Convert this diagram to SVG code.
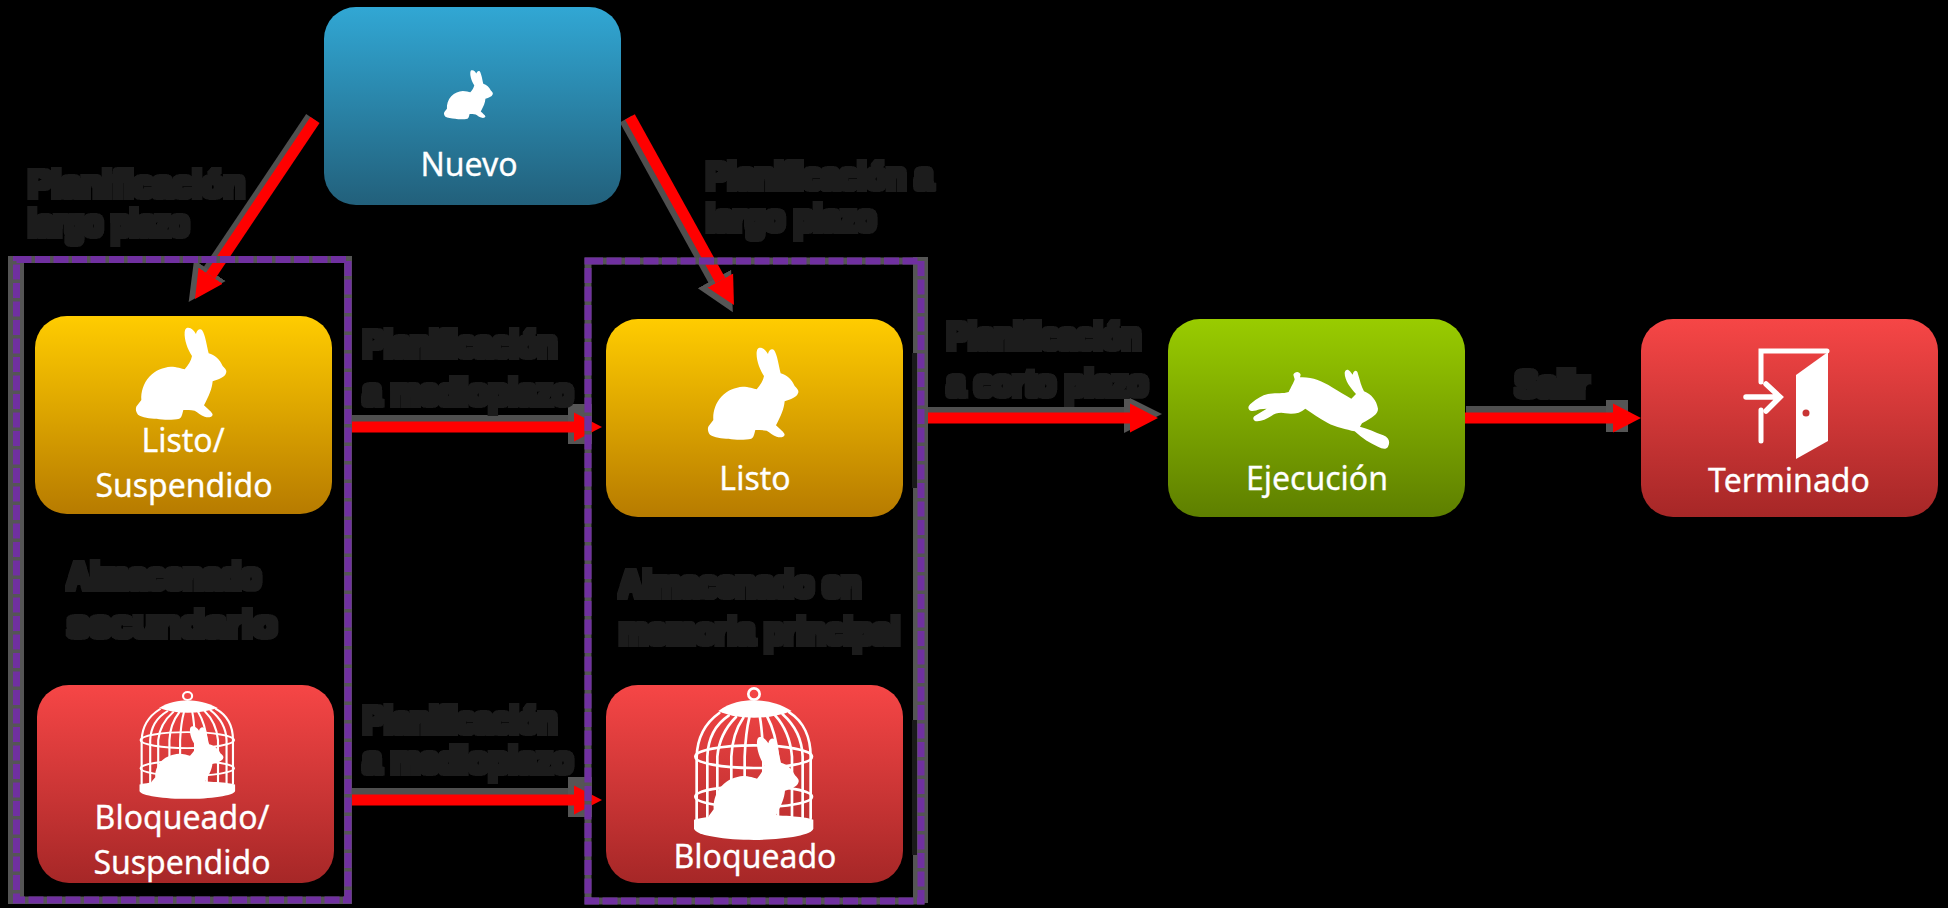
<svg xmlns="http://www.w3.org/2000/svg" xmlns:xlink="http://www.w3.org/1999/xlink" width="1948" height="908" viewBox="0 0 1948 908">
<style>
.nt{font-family:"Noto Sans","Open Sans",sans-serif;font-size:32px;fill:#fff;text-anchor:middle;stroke:#fff;stroke-width:.3px}
.lb{font-family:"Liberation Sans",Arial,sans-serif;font-weight:bold;font-size:36px;fill:#1c1c1c;filter:url(#blob)}
.card{stroke:none}
.shaft{fill:none;stroke:#f00;stroke-width:11;marker-end:url(#head)}
.halo{fill:none;stroke:#4f4f4f;stroke-width:16}
.halo.block{marker-end:url(#haloBlock)}
.halo.small{marker-end:url(#haloSmall)}
.halo.tri{stroke-width:14;marker-end:url(#haloTri)}
.frame{fill:none;stroke:#7030a0;stroke-width:7;stroke-dasharray:15 3.500}
.under{fill:none;stroke:#555;stroke-width:7}
.ink{fill:#fff}
.wire{fill:none;stroke:#fff;stroke-linecap:round}
</style>
<defs>
<filter id="blob" x="-8%" y="-30%" width="116%" height="160%"><feMorphology operator="dilate" radius="3 3"/></filter>
<linearGradient id="gBlue" x1="0" y1="0" x2="0" y2="1"><stop offset="0" stop-color="#31a7d4"/><stop offset="1" stop-color="#22607b"/></linearGradient>
<linearGradient id="gYellow" x1="0" y1="0" x2="0" y2="1"><stop offset="0" stop-color="#ffcc00"/><stop offset="1" stop-color="#b77b00"/></linearGradient>
<linearGradient id="gRed" x1="0" y1="0" x2="0" y2="1"><stop offset="0" stop-color="#f64646"/><stop offset="1" stop-color="#a62727"/></linearGradient>
<linearGradient id="gGreen" x1="0" y1="0" x2="0" y2="1"><stop offset="0" stop-color="#99cc00"/><stop offset="1" stop-color="#5e7f00"/></linearGradient>
<marker id="head" markerUnits="userSpaceOnUse" markerWidth="30" markerHeight="30" viewBox="0 0 30 30" refX="0" refY="15" orient="auto"><polygon points="0,0.5 28,15 0,29.500" fill="#f00"/></marker>
<marker id="haloBlock" markerUnits="userSpaceOnUse" markerWidth="30" markerHeight="44" viewBox="0 0 30 44" refX="6" refY="19" orient="auto"><rect x="0" y="0" width="24" height="40" fill="#555"/></marker>
<marker id="haloSmall" markerUnits="userSpaceOnUse" markerWidth="30" markerHeight="40" viewBox="0 0 30 40" refX="2" refY="14" orient="auto"><rect x="0" y="0" width="22" height="32" fill="#555"/></marker>
<marker id="haloTri" markerUnits="userSpaceOnUse" markerWidth="40" markerHeight="40" viewBox="0 0 40 40" refX="4" refY="20" orient="auto"><polygon points="0,1 38,20 0,39" fill="#555"/></marker>
<path id="rabbit" class="ink" d="M200 24C212 20 222 32 228 42C230 30 240 24 246 30C256 44 260 76 266 100C284 104 300 120 308 138C316 146 322 152 318 160C314 172 296 178 278 184C276 206 268 226 252 256C262 266 276 276 278 284C276 292 264 294 254 290C242 286 234 278 224 272C212 270 200 270 190 270C186 284 186 292 178 296C160 300 130 300 110 296C90 296 66 292 54 284C46 274 46 262 52 256L64 240C62 216 70 190 88 170C106 150 130 142 152 140C170 140 186 146 194 148C204 136 214 122 216 108C204 90 192 60 194 36C195 30 196 26 200 24Z"/>
<path id="hare" class="ink" d="M160 44C164 34 178 32 182 44L180 52C214 50 246 62 276 82C296 94 316 106 334 116L348 102C332 84 314 62 314 38C316 28 324 26 330 34L338 44C342 28 352 30 354 42C360 62 364 80 372 94C394 102 410 122 414 146C414 162 398 172 366 190L360 200C384 206 404 216 430 226C446 232 452 246 444 260C438 270 426 266 414 260C390 250 368 236 344 214C320 208 288 202 262 188C240 176 216 160 196 146C180 160 160 164 136 160C120 156 106 160 94 168C80 176 66 184 52 184C40 184 36 174 44 168C56 160 66 154 80 146L60 148C48 152 34 156 28 150C22 144 26 136 34 130C50 116 66 106 84 102C104 98 128 102 146 96C152 84 162 66 164 58Z"/>
<g id="cage">
<circle class="wire" cx="222" cy="27" r="17" stroke-width="8"/>
<path class="ink" d="M115 78C150 52 190 46 222 46C254 46 294 52 335 78C300 92 262 98 222 98C182 98 146 92 115 78Z"/>
<g class="wire" stroke-width="8">
<path d="M118 84C74 115 52 160 50 215V405"/>
<path d="M146 92C104 120 84 160 82 215V405"/>
<path d="M168 96C134 130 116 170 112 215V405"/>
<path d="M190 98C168 130 156 170 154 215V410"/>
<path d="M208 98C200 130 196 170 194 215V410"/>
<path d="M240 98C246 130 248 170 250 215V410"/>
<path d="M262 96C280 130 290 170 294 215V410"/>
<path d="M286 92C316 125 332 170 336 215V405"/>
<path d="M308 88C344 120 366 160 368 215V405"/>
<path d="M328 82C372 110 392 160 392 215V400"/>
<ellipse cx="221" cy="215" rx="175" ry="34"/>
<ellipse cx="221" cy="335" rx="175" ry="32"/>
</g>
<path class="ink" d="M42 404C90 385 355 385 400 404V430C400 452 300 465 222 465C140 465 42 452 42 430Z"/>
<use href="#rabbit" transform="translate(37,133)"/>
</g>
<g id="door">
<path class="wire" stroke-width="5" d="M31 47V16H97M31 75V106"/>
<path class="wire" stroke-width="5.500" d="M16 62H48M36 49L50 62L36 76"/>
<path class="ink" d="M98 17V106L66 124V40Z"/>
<circle cx="76" cy="78" r="3.500" fill="#c93535"/>
</g>
</defs>
<rect width="1948" height="908" fill="#000"/>
<g id="connectors">
<path class="halo tri" d="M312 118L207.600 273.700"/>
<path class="halo tri" d="M626 119L716.400 282.500"/>
<path class="halo block" d="M352 423H574"/>
<path class="halo block" d="M352 796H574"/>
<path class="halo tri" d="M928 414H1128"/>
<path class="halo small" d="M1466 414H1608"/>
<path class="shaft" d="M315 120L210.600 275.700"/>
<path class="shaft" d="M630 117L720.400 280.500"/>
<path class="shaft" d="M348 427H574"/>
<path class="shaft" d="M352 800H574"/>
<path class="shaft" d="M924 418H1130"/>
<path class="shaft" d="M1465 418H1613"/>
</g>
<g id="suspended-box">
<rect x="16.500" y="259.500" width="331.500" height="640.500" class="under"/>
<rect x="8" y="256" width="16" height="648" fill="#555"/>
<rect x="344" y="256" width="8" height="648" fill="#555"/>
<rect x="8" y="256" width="344" height="7" fill="#555"/>
<rect x="8" y="897" width="344" height="7" fill="#555"/>
<rect x="16.500" y="259.500" width="331.500" height="640.500" class="frame"/>
</g>
<g id="memory-box">
<rect x="588" y="261" width="333" height="640" class="under"/>
<rect x="913" y="257" width="15" height="646" fill="#555"/>
<rect x="588" y="261" width="333" height="640" class="frame"/>
<rect x="912" y="353" width="5" height="135" fill="#1a1a1a"/>
<rect x="912" y="720" width="5" height="135" fill="#1a1a1a"/>
</g>
<g id="nuevo">
<rect class="card" x="324" y="7" width="297" height="198" rx="32" fill="url(#gBlue)"/>
<use href="#rabbit" transform="translate(435.400,66) scale(.18,.178)"/>
<text class="nt" x="469" y="176">Nuevo</text>
</g>
<g id="listo-suspendido">
<rect class="card" x="35" y="316" width="297" height="198" rx="32" fill="url(#gYellow)"/>
<use href="#rabbit" transform="translate(120,320) scale(.3333)"/>
<text class="nt" x="183" y="452">Listo/</text>
<text class="nt" x="184" y="497">Suspendido</text>
</g>
<g id="bloqueado-suspendido">
<rect class="card" x="37" y="685" width="297" height="198" rx="32" fill="url(#gRed)"/>
<use href="#cage" transform="translate(128.300,689.600) scale(.267,.235)"/>
<text class="nt" x="182" y="829">Bloqueado/</text>
<text class="nt" x="182" y="874">Suspendido</text>
</g>
<g id="listo">
<rect class="card" x="606" y="319" width="297" height="198" rx="32" fill="url(#gYellow)"/>
<use href="#rabbit" transform="translate(692,340) scale(.3333)"/>
<text class="nt" x="755" y="490">Listo</text>
</g>
<g id="bloqueado">
<rect class="card" x="606" y="685" width="297" height="198" rx="32" fill="url(#gRed)"/>
<use href="#cage" transform="translate(680,685) scale(.3333)"/>
<text class="nt" x="755" y="868">Bloqueado</text>
</g>
<g id="ejecucion">
<rect class="card" x="1168" y="319" width="297" height="198" rx="32" fill="url(#gGreen)"/>
<use href="#hare" transform="translate(1240,360) scale(.3333)"/>
<text class="nt" x="1317" y="490">Ejecución</text>
</g>
<g id="terminado">
<rect class="card" x="1641" y="319" width="297" height="198" rx="32" fill="url(#gRed)"/>
<use href="#door" transform="translate(1730,335)"/>
<text class="nt" x="1789" y="492">Terminado</text>
</g>
<g id="labels">
<text class="lb" x="28" y="197" textLength="217" lengthAdjust="spacingAndGlyphs">Planificación</text>
<text class="lb" x="28" y="236" textLength="161" lengthAdjust="spacingAndGlyphs">largo plazo</text>
<text class="lb" x="706" y="189" textLength="227" lengthAdjust="spacingAndGlyphs">Planificación a</text>
<text class="lb" x="706" y="231" textLength="170" lengthAdjust="spacingAndGlyphs">largo plazo</text>
<text class="lb" x="363" y="357" textLength="194" lengthAdjust="spacingAndGlyphs">Planificación</text>
<text class="lb" x="363" y="405" textLength="210" lengthAdjust="spacingAndGlyphs">a medioplazo</text>
<text class="lb" x="363" y="733" textLength="194" lengthAdjust="spacingAndGlyphs">Planificación</text>
<text class="lb" x="363" y="773" textLength="210" lengthAdjust="spacingAndGlyphs">a medioplazo</text>
<text class="lb" x="947" y="349" textLength="194" lengthAdjust="spacingAndGlyphs">Planificación</text>
<text class="lb" x="947" y="396" textLength="201" lengthAdjust="spacingAndGlyphs">a corto plazo</text>
<text class="lb" x="1515" y="397" textLength="74" lengthAdjust="spacingAndGlyphs">Salir</text>
<text class="lb" x="67" y="589" textLength="194" lengthAdjust="spacingAndGlyphs">Almacenado</text>
<text class="lb" x="67" y="637" textLength="210" lengthAdjust="spacingAndGlyphs">secundario</text>
<text class="lb" x="619" y="597" textLength="242" lengthAdjust="spacingAndGlyphs">Almacenado en</text>
<text class="lb" x="619" y="644" textLength="281" lengthAdjust="spacingAndGlyphs">memoria principal</text>
</g>
</svg>
